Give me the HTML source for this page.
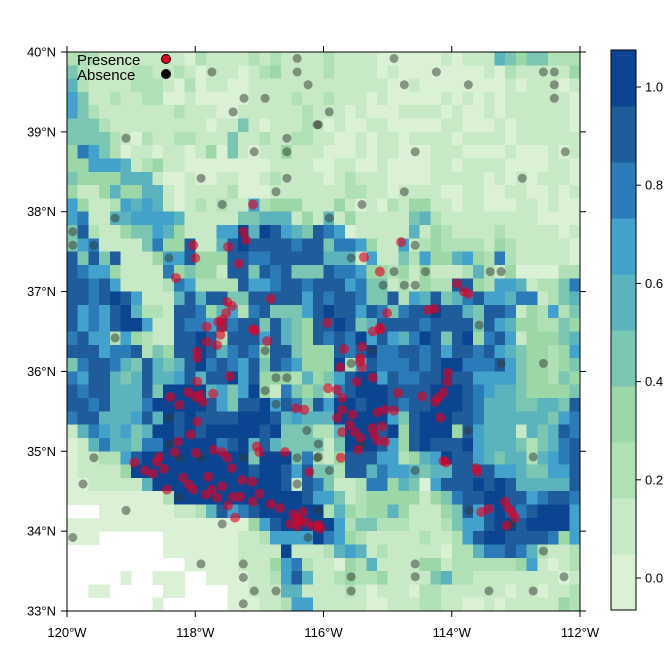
<!DOCTYPE html>
<html><head><meta charset="utf-8">
<style>
html,body{margin:0;padding:0;background:#fff;}
svg{display:block;font-family:"Liberation Sans",Arial,sans-serif;}
</style></head>
<body>
<svg id="chart" width="672" height="672" viewBox="0 0 672 672" xmlns="http://www.w3.org/2000/svg">
<g id="raster" shape-rendering="crispEdges"></g>
<g id="absence"></g>
<g id="presence"></g>
<rect x="67" y="52" width="513" height="559" fill="none" stroke="#000" stroke-width="1"/>
<g id="axes" font-size="13" fill="#000"></g>
<g id="colorbar"></g>
<g>
  <text x="77" y="65" font-size="15">Presence</text>
  <circle cx="166" cy="59" r="4.5" fill="#e3001b" stroke="#000" stroke-width="1"/>
  <text x="77" y="80" font-size="15">Absence</text>
  <circle cx="166" cy="74" r="4.5" fill="#000" stroke="#000" stroke-width="1"/>
</g>
</svg>
<script>
const lonTicks = [-120, -118, -116, -114, -112];
const latTicks = [33, 34, 35, 36, 37, 38, 39, 40];
const cbTicks = [0.0, 0.2, 0.4, 0.6, 0.8, 1.0];
const levelColors = ["#dbf1d6","#c7e9c5","#b0e0b6","#9cd7a7","#7bc6b2","#5ab3bd","#42a2cb","#2b7bb9","#1e5c9c","#0b4591"];
const cellDeg = 1/6;
const gridRows = [
"222111111110211112121111211110000001011154344222",
"421111221121011101231111211110100000000102111113",
"521111222102011001111111111111001000000001011101",
"641121122001000001111211211101000001010101111110",
"642111111121110011111121110100011110100101111110",
"444211111111101141011121010011000001100010111110",
"444421021122111411211221100101101111011110111111",
"376420110110130410113111000101100011100001000101",
"336665123110000000011110011001000011011110000110",
"433335551001001100121111012111000011111010101110",
"311353355101111200011111112211011110011001100101",
"631126565101212116233311131010213311011000110100",
"671155666651111144555131513111114521111111110000",
"482113446531116695986548760111115132111121111101",
"467111147338115898888788477631161232222132111110",
"848481113668333887788888555161142633563272111110",
"876631111734331884878444877633231311125213000022",
"887861111276222286678878886744121322883266512247",
"887898611158588448888868788744826584578665771245",
"867689522188735627844468988687478898854887132624",
"867689961187768788485438898458888788884865332243",
"786626321188982888685438787968657984893786133345",
"888677824388985787388433387897788786887865433236",
"478875485458978768487633392687778789977786433234",
"768854585568588968333253468996877889886666433243",
"878855584999956469317434278999888899987655433334",
"887855579999986488968748699899878899987555445548",
"788555685989888899985655599999648999887555555467",
"157656459989899999894442259998938999386555154587",
"015755477999997895854444149998638988896555424578",
"011226899999999994999472138886623569886545525678",
"011113999999999998998684428857665455888866544668",
"001111159999999999998187411277354068889898555558",
"000000000299999999999986641233333134788998867887",
"...000000011258678999999253233531113486898789996",
"000000000000000003689999962442221112466899899996",
"000......000000011266669763211111211268998888736",
".........000000011119111256512111110225778752112",
"...........0000011136721103251111331222222361012",
".....0..000..00001126851123223111145221111111101",
"..00.....00....001115511112101110221111110110112",
"........0......000112661111100111221100101111132"
];
const absLon = [-116.41,-117.74,-116.41,-116.24,-117.24,-116.91,-117.41,-116.10,-119.08,-116.57,-117.08,-116.57,-117.91,-116.57,-116.74,-117.58,-119.25,-119.91,-119.91,-119.58,-118.41,-114.90,-114.24,-112.57,-112.40,-114.74,-113.74,-112.40,-112.40,-115.91,-116.08,-114.57,-112.23,-112.90,-114.74,-115.40,-115.91,-114.57,-115.57,-114.90,-114.41,-113.40,-113.23,-115.07,-114.74,-114.57,-113.57,-119.25,-116.91,-116.74,-116.57,-116.91,-116.74,-118.41,-116.26,-118.41,-118.25,-117.91,-117.25,-116.41,-116.10,-119.58,-119.75,-116.41,-118.25,-119.08,-117.58,-119.91,-116.24,-117.91,-117.25,-117.25,-117.08,-116.74,-117.25,-115.57,-115.24,-113.23,-112.57,-113.74,-116.08,-116.08,-115.91,-114.57,-112.73,-116.08,-113.73,-112.57,-114.57,-115.57,-114.57,-112.25,-115.57,-113.42,-112.73,-115.40,-113.06];
const absLat = [39.92,39.75,39.75,39.59,39.42,39.42,39.25,39.09,38.92,38.92,38.75,38.75,38.42,38.42,38.25,38.09,37.92,37.75,37.58,37.58,37.42,39.92,39.75,39.75,39.75,39.59,39.59,39.59,39.42,39.25,39.09,38.75,38.75,38.42,38.25,38.09,37.92,37.58,37.42,37.25,37.25,37.25,37.25,37.08,37.08,37.08,36.58,36.42,36.26,35.92,35.92,35.76,35.59,35.42,35.26,35.09,34.92,34.92,34.92,34.92,34.92,34.92,34.59,34.59,34.42,34.26,34.09,33.92,33.92,33.59,33.59,33.42,33.25,33.25,33.09,36.10,36.26,36.10,36.10,35.26,35.09,34.93,34.76,34.76,34.93,34.26,34.26,33.75,33.59,33.43,33.43,33.43,33.25,33.25,33.25,35.09,34.09];
const presLon = [-117.10,-117.25,-117.21,-118.03,-118.00,-117.49,-117.32,-118.30,-116.82,-117.50,-117.43,-117.52,-117.57,-117.64,-117.82,-117.10,-114.79,-115.37,-115.12,-113.92,-113.81,-113.74,-114.27,-114.37,-115.01,-115.94,-115.12,-117.58,-117.61,-117.66,-117.82,-117.07,-116.88,-117.97,-117.97,-117.46,-117.97,-118.11,-118.00,-117.93,-118.39,-118.25,-117.88,-117.72,-117.97,-118.07,-118.27,-118.32,-117.99,-117.71,-117.58,-117.50,-117.43,-118.56,-118.60,-118.95,-118.49,-118.78,-118.66,-118.19,-117.80,-118.10,-118.03,-117.74,-117.58,-118.44,-117.41,-117.30,-117.49,-117.66,-117.83,-117.27,-117.11,-117.00,-117.10,-117.38,-117.04,-117.00,-116.60,-116.43,-116.30,-116.22,-116.82,-116.68,-116.47,-116.37,-116.26,-116.16,-116.52,-116.41,-116.32,-116.40,-115.23,-115.12,-115.40,-115.43,-115.43,-115.40,-115.68,-115.74,-115.48,-115.23,-115.93,-115.79,-115.71,-114.84,-114.46,-114.13,-114.21,-114.26,-115.04,-115.16,-114.90,-115.71,-115.79,-115.55,-115.59,-115.09,-115.24,-115.21,-115.51,-115.71,-115.43,-115.16,-115.04,-115.46,-115.73,-114.18,-114.13,-114.09,-113.62,-113.60,-114.06,-114.07,-113.17,-113.12,-113.06,-113.01,-113.43,-113.54,-113.15,-116.08,-116.05];
const presLat = [38.09,37.75,37.65,37.58,37.42,37.56,37.35,37.17,36.91,36.87,36.82,36.73,36.65,36.62,36.56,36.53,37.62,37.43,37.25,37.10,37.00,36.97,36.78,36.77,36.73,36.61,36.55,36.55,36.46,36.33,36.37,36.51,36.38,36.25,36.17,35.94,35.87,35.74,35.68,35.71,35.68,35.58,35.62,35.72,35.37,35.21,35.12,34.99,34.98,35.02,34.99,34.92,34.79,34.93,34.87,34.86,34.78,34.76,34.72,34.67,34.68,34.58,34.52,34.52,34.56,34.52,34.43,34.43,34.32,34.42,34.46,34.64,34.62,34.47,34.37,34.17,35.06,34.99,34.99,35.54,35.52,34.74,34.34,34.29,34.21,34.12,34.11,34.06,34.09,34.06,34.24,34.16,36.50,36.52,36.31,36.17,36.12,36.05,36.28,36.05,35.87,35.92,35.79,35.77,35.67,35.73,35.69,35.74,35.67,35.62,35.52,35.49,35.51,35.52,35.42,35.46,35.33,35.31,35.29,35.21,35.24,35.24,35.17,35.13,35.12,35.02,34.92,35.42,34.88,34.86,34.79,34.74,35.98,35.87,34.37,34.29,34.23,34.17,34.28,34.24,34.07,34.08,34.03];

const NS = "http://www.w3.org/2000/svg";
const X0 = 67, X1 = 580, Y0 = 52, Y1 = 611;
const lonMin = -120, lonMax = -112, latMin = 33, latMax = 40;
function xScale(lon){ return X0 + (lon - lonMin) / (lonMax - lonMin) * (X1 - X0); }
function yScale(lat){ return Y1 - (lat - latMin) / (latMax - latMin) * (Y1 - Y0); }
const CB_X = 611, CB_W = 25, CB_TOP = 50, CB_BOT = 610;
function cbScale(v){ return 578 - v * 491; }
function mk(tag, attrs, parent){
  const el = document.createElementNS(NS, tag);
  for (const k in attrs) el.setAttribute(k, attrs[k]);
  parent.appendChild(el);
  return el;
}

const raster = document.getElementById('raster');
gridRows.forEach((row, r) => {
  const lat = latMax - r * cellDeg;
  for (let c = 0; c < row.length; c++) {
    const ch = row[c];
    if (ch === '.') continue;
    const lon = lonMin + c * cellDeg;
    const x = xScale(lon), y = yScale(lat);
    const w = xScale(lon + cellDeg) - x, h = yScale(lat - cellDeg) - y;
    const el = mk('rect', {x: x.toFixed(2), y: y.toFixed(2), width: (w + 0.4).toFixed(2), height: (h + 0.4).toFixed(2), fill: levelColors[+ch]}, raster);
    
    
  }
});

const absG = document.getElementById('absence');
absLon.forEach((lon, i) => {
  const el = mk('circle', {cx: xScale(lon).toFixed(1), cy: yScale(absLat[i]).toFixed(1), r: 4.5, fill: 'rgba(50,55,50,0.5)'}, absG);
  
  
});
const presG = document.getElementById('presence');
presLon.forEach((lon, i) => {
  const el = mk('circle', {cx: xScale(lon).toFixed(1), cy: yScale(presLat[i]).toFixed(1), r: 5, fill: 'rgba(228,0,35,0.62)'}, presG);
  
  
});

const axes = document.getElementById('axes');
lonTicks.forEach(t => {
  const x = xScale(t);
  const b = mk('line', {x1: x, x2: x, y1: Y1, y2: Y1 + 6, stroke: '#000'}, axes);
  
  
  const tp = mk('line', {x1: x, x2: x, y1: Y0, y2: Y0 - 6, stroke: '#000'}, axes);
  
  
  const tx = mk('text', {x: x, y: 637, 'text-anchor': 'middle'}, axes);
  tx.textContent = Math.abs(t) + '°W';
  
  
});
latTicks.forEach(t => {
  const y = yScale(t);
  const l = mk('line', {x1: X0 - 6, x2: X0, y1: y, y2: y, stroke: '#000'}, axes);
  
  
  const r = mk('line', {x1: X1, x2: X1 + 6, y1: y, y2: y, stroke: '#000'}, axes);
  
  
  const tx = mk('text', {x: 56, y: y + 4.5, 'text-anchor': 'end'}, axes);
  tx.textContent = t + '°N';
  
  
});

const cb = document.getElementById('colorbar');
const bandH = (CB_BOT - CB_TOP) / levelColors.length;
levelColors.forEach((col, i) => {
  const el = mk('rect', {x: CB_X, y: (CB_BOT - (i + 1) * bandH).toFixed(2), width: CB_W, height: (bandH + 0.5).toFixed(2), fill: col}, cb);
  
  
});
const cbf = mk('rect', {x: CB_X, y: CB_TOP, width: CB_W, height: CB_BOT - CB_TOP, fill: 'none', stroke: '#000'}, cb);


cbTicks.forEach(v => {
  const y = cbScale(v);
  const l = mk('line', {x1: CB_X + CB_W, x2: CB_X + CB_W + 5, y1: y, y2: y, stroke: '#000'}, cb);
  
  
  const tx = mk('text', {x: 645, y: y + 4.5, 'font-size': 13}, cb);
  tx.textContent = v.toFixed(1);
  
  
});
</script>
</body></html>
